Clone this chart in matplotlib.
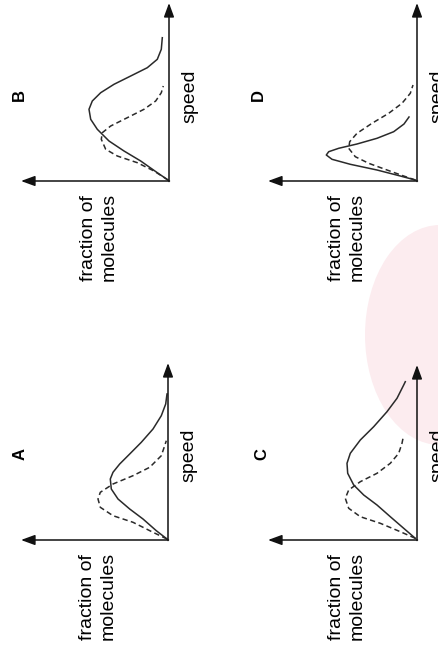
import matplotlib
matplotlib.use("Agg")
import matplotlib.pyplot as plt
from matplotlib.patches import Ellipse

plt.rcParams['font.family'] = ['Liberation Sans', 'DejaVu Sans']

# curves: (fraction, speed), fraction grows to the left, speed upward
panels = ["A", "B", "C", "D"]

solid_frac = {
    "A": [1, 11.7, 25, 38.3, 50, 56.7, 57.7, 55, 48.3, 38.3, 26.7, 15, 6.7, 2.3, 1],
    "B": [1, 11.7, 28.3, 45, 60, 71.7, 78.3, 80, 76.7, 68.3, 55, 38.3, 21.7, 11.7, 7.7, 6.7],
    "C": [1.7, 13.3, 26.7, 40, 53.3, 63.3, 69.3, 70, 66.7, 56.7, 43.3, 30, 20, 13.3, 11.7],
    "D": [1.7, 16.7, 40, 66.7, 85, 90.7, 88.3, 78.3, 60, 40, 23.3, 13, 8],
}
solid_speed = {
    "A": [1, 9.3, 21, 31, 41, 51, 61, 67.7, 76, 86, 97.7, 111, 124.3, 136, 146],
    "B": [1, 8.3, 20, 30, 40, 51.7, 61.7, 71.7, 80, 88.3, 96.7, 105, 113.3, 121.7, 131.7, 143.3],
    "C": [1.7, 11.7, 23.3, 35, 45, 55, 66.7, 76.7, 86.7, 100, 113.3, 128.3, 141.7, 155, 158.3],
    "D": [1, 5, 11, 16.7, 21.7, 26, 29.3, 32.7, 37, 42.7, 49.3, 57, 64],
}
dash_frac = {
    "A": [1, 15, 35, 55, 67.7, 70, 67.7, 55, 35, 18.3, 6.7, 3.3, 1.7],
    "B": [1, 15, 31.7, 51.7, 63.3, 67.7, 66.7, 58.3, 41.7, 25, 13.3, 7.7, 5.7],
    "C": [1.7, 16.7, 36.7, 56.7, 68.3, 71.7, 68.3, 56.7, 40, 26.7, 18.3, 15, 14],
    "D": [1.7, 13.3, 30, 48.3, 61.7, 68.3, 67.3, 60, 45, 28.3, 15, 6.7, 4],
}
dash_speed = {
    "A": [1, 7.7, 17.7, 24.3, 32.7, 41, 47.7, 56, 64.3, 72.7, 84.3, 94.3, 99.3],
    "B": [1, 10, 18.3, 25, 31.7, 41.7, 48.3, 55, 63.3, 71.7, 80, 88.3, 95],
    "C": [1.7, 8.3, 16.7, 23.3, 31.7, 41.7, 50, 58.3, 66.7, 76.7, 86.7, 96.7, 101.7],
    "D": [1, 5, 11, 17.7, 24.3, 32.7, 39.3, 47.7, 57.7, 67.7, 77.7, 87.7, 96],
}

W, H = 439, 651
fig = plt.figure(figsize=(W / 100, H / 100), dpi=100)

# faint watermark behind everything
fig.patches.append(Ellipse((440 / W, 1 - 335 / H), 150 / W, 220 / H,
                           transform=fig.transFigure, facecolor="#fcecef",
                           edgecolor="none", zorder=-5))

# pixel box of each panel: origin x, origin y, left arrow tip, top arrow tip
box = {
    "A": (168, 540, 21, 363),
    "B": (169, 181, 21, 3),
    "C": (417, 540, 268, 365),
    "D": (417, 181, 268, 3),
}
letter_off = {"A": 148, "B": 150, "C": 155, "D": 159}

for p in panels:
    ox, oy, lx, ty = box[p]
    w = ox - lx
    h = oy - ty
    ax = fig.add_axes([lx / W, 1 - oy / H, w / W, h / H])
    ax.set_xlim(w, 0)
    ax.set_ylim(0, h)
    ax.axis("off")
    ax.set_zorder(2)

    arrow = dict(arrowstyle="-|>,head_length=0.6,head_width=0.22", lw=1.1,
                 color="#111111", mutation_scale=14, shrinkA=0, shrinkB=0)
    ax.annotate("", xy=(w, 0), xytext=(-0.5, 0), arrowprops=arrow, annotation_clip=False)
    ax.annotate("", xy=(0, h), xytext=(0, -0.5), arrowprops=arrow, annotation_clip=False)

    ax.plot(solid_frac[p], solid_speed[p], color="#2a2a2a", lw=1.1, clip_on=False)
    ax.plot(dash_frac[p], dash_speed[p], color="#2a2a2a", lw=1.1,
            dashes=(3.5, 2.2), clip_on=False)

    ax.text(letter_off[p], 86, p, rotation=90, fontsize=12, fontweight="bold",
            ha="center", va="center", clip_on=False)
    ax.text(-21, 85, "speed", rotation=90, fontsize=14,
            ha="center", va="center", clip_on=False)
    ax.text(70, -100, "fraction of\nmolecules", rotation=90, fontsize=14,
            ha="center", va="bottom", multialignment="left", linespacing=1.3,
            clip_on=False)

fig.savefig("out.png", dpi=100)
